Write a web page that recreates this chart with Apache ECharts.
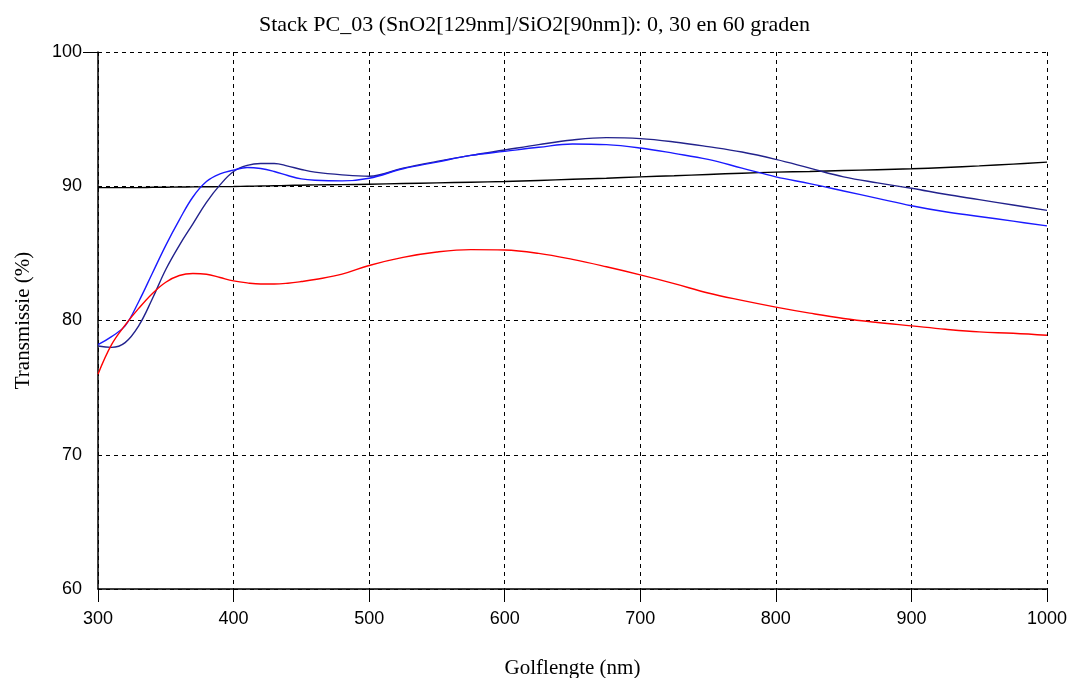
<!DOCTYPE html>
<html>
<head>
<meta charset="utf-8">
<script src="https://cdn.jsdelivr.net/npm/echarts@6/dist/echarts.min.js"></script>
<style>
html,body{margin:0;padding:0;background:#fff;}
#c1{width:1069px;height:678px;}
</style>
</head>
<body>
<div id="c1"></div>
<script>
// golflengte (nm)
var golflengte = [300,310,320,330,340,350,360,370,380,390,400,410,420,430,440,450,460,480,500,525,550,575,600,625,650,675,700,725,750,775,800,825,850,875,900,925,950,975,1000];
// transmissie (%) per curve
var zwart = [89.9,89.9,89.9,89.9,89.92,89.93,89.94,89.95,89.96,89.97,89.98,90.0,90.02,90.04,90.06,90.08,90.1,90.12,90.15,90.2,90.25,90.3,90.35,90.43,90.52,90.6,90.7,90.78,90.88,90.97,91.05,91.1,91.17,91.23,91.3,91.4,91.52,91.65,91.8];
var donkerblauw = [78.1,78.0,78.35,79.6,81.6,83.8,85.6,87.2,88.8,90.1,91.1,91.55,91.7,91.7,91.5,91.25,91.05,90.85,90.75,91.35,91.85,92.3,92.7,93.1,93.45,93.62,93.55,93.3,92.95,92.55,92.0,91.35,90.7,90.25,89.85,89.4,89.0,88.6,88.2];
var blauw = [78.2,78.8,79.6,81.4,83.5,85.6,87.5,89.2,90.35,90.92,91.2,91.4,91.32,91.1,90.8,90.55,90.45,90.4,90.6,91.3,91.8,92.3,92.6,92.9,93.15,93.1,92.85,92.45,92.0,91.35,90.7,90.2,89.65,89.1,88.55,88.1,87.75,87.4,87.05];
var rood = [76.0,78.2,79.65,80.9,82.0,82.85,83.35,83.5,83.45,83.2,82.95,82.8,82.72,82.72,82.78,82.9,83.05,83.45,84.1,84.7,85.1,85.28,85.25,85.0,84.55,84.0,83.4,82.75,82.05,81.5,81.0,80.55,80.15,79.85,79.6,79.35,79.15,79.05,78.9];

var xTicks = [300,400,500,600,700,800,900,1000];
var yTicks = [60,70,80,90,100];

function pairs(arr){
	var out = [];
	for(var i=0;i<golflengte.length;i++){
		out.push([golflengte[i], arr[i]]);
	}
	return out;
}

var serif = 'Liberation Serif, Times New Roman, serif';
var sans = 'Liberation Sans, Arial, sans-serif';
var myChart = echarts.init(document.getElementById('c1'));

function lijn(name, data, color){
	return {
		name : name,
		type : 'line',
		data : pairs(data),
		smooth : 0.4,
		showSymbol : false,
		lineStyle : { color : color, width : 1.4 },
		itemStyle : { color : color },
		animation : false
	};
}

var option = {
	backgroundColor : '#fff',
	animation : false,
	title : {
		text : 'Stack PC_03 (SnO2[129nm]/SiO2[90nm]): 0, 30 en 60 graden',
		left : 'center',
		top : 9,
		textStyle : { fontFamily : serif, fontSize : 22, fontWeight : 'normal', color : '#000' }
	},
	grid : { left : 98, top : 52, right : 22, bottom : 89, outerBoundsMode : 'none', containLabel : false },
	xAxis : {
		type : 'value',
		min : xTicks[0],
		max : xTicks[xTicks.length-1],
		interval : 100,
		name : 'Golflengte (nm)',
		nameLocation : 'middle',
		nameGap : 69,
		nameTextStyle : { fontFamily : serif, fontSize : 21, color : '#000' },
		axisLine : { lineStyle : { color : '#000', width : 1.5 } },
		axisTick : { show : true, length : 13, lineStyle : { color : '#000' } },
		axisLabel : { fontFamily : sans, fontSize : 18, color : '#000', margin : 21,
			formatter : function(v){ return String(v); } },
		splitLine : { show : true, lineStyle : { color : '#000', type : [4,4], width : 1 } }
	},
	yAxis : [{
		type : 'value',
		min : yTicks[0],
		max : yTicks[yTicks.length-1],
		interval : 10,
		name : 'Transmissie (%)',
		nameLocation : 'middle',
		nameGap : 64,
		nameTextStyle : { fontFamily : serif, fontSize : 21, color : '#000' },
		axisLine : { show : true, lineStyle : { color : '#000', width : 1.5 } },
		axisTick : { show : false },
		axisLabel : { fontFamily : sans, fontSize : 18, color : '#000', margin : 16 },
		splitLine : { show : true, lineStyle : { color : '#000', type : [4,4], width : 1 } }
	}, {
		// alleen het streepje bij 100
		type : 'value',
		position : 'left',
		min : yTicks[0],
		max : yTicks[yTicks.length-1],
		interval : 10,
		axisLine : { show : false },
		axisTick : { show : true, length : 15, customValues : [100], lineStyle : { color : '#000' } },
		axisLabel : { show : false },
		splitLine : { show : false }
	}],
	series : [
		lijn('0', zwart, '#000000'),
		lijn('30', donkerblauw, '#22228c'),
		lijn('60', blauw, '#1a1aff'),
		lijn('r', rood, '#ff0000')
	]
};
myChart.setOption(option);
</script>
</body>
</html>
